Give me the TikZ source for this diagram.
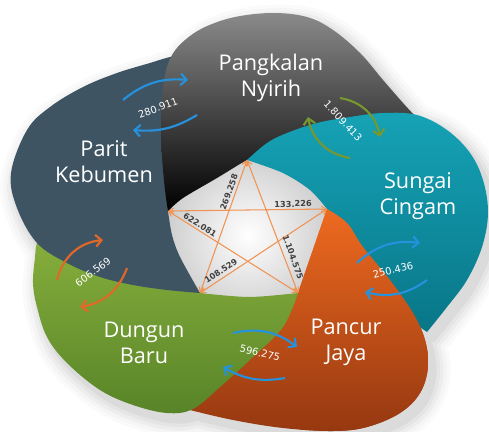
\documentclass[tikz,border=0pt]{standalone}
\usepackage{fontspec}
\setmainfont{Open Sans}
\newfontfamily\numfont{DejaVu Sans}
\usetikzlibrary{arrows.meta}

\definecolor{slate}{RGB}{62,84,99}
\definecolor{greytop}{RGB}{138,138,138}
\definecolor{tealtop}{RGB}{22,162,182}
\definecolor{tealbot}{RGB}{8,118,135}
\definecolor{orangetop}{RGB}{238,106,32}
\definecolor{orangebot}{RGB}{150,56,16}
\definecolor{greentop}{RGB}{138,178,62}
\definecolor{greenbot}{RGB}{88,132,40}
\definecolor{arrowblue}{RGB}{38,146,222}
\definecolor{arrowolive}{RGB}{118,152,46}
\definecolor{arroworange}{RGB}{226,104,40}
\definecolor{starorange}{RGB}{240,146,82}

% petal outlines, in pixels
\newcommand{\petalGrey}{(168,211) -- plot[smooth, tension=0.6] coordinates {(168,211) (165,190) (162,157) (161,125) (162,100) (165,75) (172,55) (185,40) (205,27) (235,17) (273,13) (307,17) (333,30) (360,53) (383,80) (403,103) (415,116)} -- (425,140) -- (330,150) -- plot[smooth] coordinates {(275,147) (247,160) (217,178) (183,198) (168,211)} -- cycle}
\newcommand{\petalSlate}{(200,293) -- plot[smooth, tension=0.6] coordinates {(200,293) (167,290) (133,285) (100,277) (67,263) (37,243) (17,208) (11,173) (27,130) (50,107) (83,87) (117,73) (150,63) (170,57) (195,52)} -- (190,150) -- plot[smooth] coordinates {(168,211) (172,235) (180,257) (200,293)} -- cycle}
\newcommand{\petalGreen}{(298,293) -- plot[smooth, tension=0.6] coordinates {(298,293) (283,327) (253,357) (220,387) (193,409) (167,413) (133,405) (100,390) (67,363) (47,337) (37,307) (33,283) (35,257) (37,243) (45,225)} -- (150,262) -- plot[smooth] coordinates {(200,293) (249,297) (298,293)} -- cycle}
\newcommand{\petalOrange}{(327,209) -- plot[smooth, tension=0.6] coordinates {(327,209) (347,223) (363,247) (390,280) (413,313) (425,340) (428,367) (420,393) (400,413) (367,427) (333,431) (283,428) (233,420) (190,410)} -- (200,390) -- (270,315) -- (298,293) -- cycle}
\newcommand{\petalTeal}{(247,160) -- plot[smooth, tension=0.6] coordinates {(247,160) (267,143) (287,133) (317,123) (350,117) (383,113) (417,115) (447,130) (470,153) (483,180) (488,213) (482,247) (467,280) (447,307) (427,332)} -- (380,300) -- plot[smooth] coordinates {(327,209) (310,190) (283,173) (247,160)} -- cycle}

\begin{document}
\begin{tikzpicture}[x=0.03cm, y=-0.03cm,
    petalname/.style={text=white, align=center, font=\fontsize{18.5}{22}\selectfont}, % names on the petals
    num/.style={text=white, inner sep=1pt, font=\numfont\fontsize{8.5}{10}\selectfont},
    starnum/.style={text=black!75, inner sep=1pt, font=\numfont\bfseries\fontsize{7}{8}\selectfont},
    starline/.style={draw=starorange, line width=0.9pt, {Straight Barb[length=4pt,width=5pt]}-{Straight Barb[length=4pt,width=5pt]}},
    swirl/.style={line width=1.8pt, -{Straight Barb[length=5pt,width=10pt]}}
]
\fill[white] (0,0) rectangle (489,432);
\useasboundingbox (0,0) rectangle (489,432);

% soft shadow
\foreach \lw/\sh in {28/2,22/4,16/7,10/10,4/14}{
    \foreach \p in {\petalGrey,\petalSlate,\petalGreen,\petalOrange,\petalTeal}
        \filldraw[black!\sh, line width=\lw pt, line join=round, shift={(6,8)}] \p;
}

% centre
\begin{scope}
    \clip (248,235) circle (88);
    \shade[inner color=white, outer color=black!42] (248,235) circle (180);
\end{scope}

% petals
\shade[top color=orangetop, bottom color=orangebot] \petalOrange;
\shade[top color=greentop, bottom color=greenbot] \petalGreen;
\fill[slate] \petalSlate;
\shade[top color=greytop, bottom color=black] \petalGrey;
\shade[top color=tealtop, bottom color=tealbot] \petalTeal;
\begin{scope}
    \clip (300,200) rectangle (489,432);
    \shade[top color=orangetop, bottom color=orangebot] \petalOrange;
\end{scope}

% star
\coordinate (vT) at (247,160);
\coordinate (vL) at (168,211);
\coordinate (vR) at (327,209);
\coordinate (vBL) at (200,293);
\coordinate (vBR) at (298,293);
\draw[starline] (vT) -- (vBL);
\draw[starline] (vL) -- (vR);
\draw[starline] (vL) -- (vBR);
\draw[starline] (vT) -- (vBR);
\draw[starline] (vR) -- (vBL);
\node[starnum, rotate=70] (s269) at (229,192) {269.258};
\node[starnum, rotate=1] (s133) at (293,204) {133.226};
\node[starnum, rotate=-32] (s622) at (200,225) {622.081};
\node[starnum, rotate=-70] (s1104) at (293,257) {1.104.575};
\node[starnum, rotate=34] (s108) at (221,271) {108.529};

% names
\node[petalname] (pangkalan) at (271,78) {Pangkalan\\Nyirih};
\node[petalname] (parit) at (104,162) {Parit\\Kebumen};
\node[petalname] (sungai) at (418,196) {Sungai\\Cingam};
\node[petalname] (pancur) at (346,342) {Pancur\\Jaya};
\node[petalname] (dungun) at (144,343) {Dungun\\Baru};

% Parit Kebumen - Pangkalan Nyirih
\coordinate (pk1) at (123,100); \coordinate (pk2) at (188,80);
\coordinate (pk3) at (197,115); \coordinate (pk4) at (133,130);
\draw[swirl, arrowblue] (pk1) to[bend left=22] (pk2);
\draw[swirl, arrowblue] (pk3) to[bend left=18] (pk4);
\node[num, rotate=20] (n280) at (158,108) {280.911};

% Pangkalan Nyirih - Sungai Cingam
\coordinate (ps1) at (340,98); \coordinate (ps2) at (380,137);
\coordinate (ps3) at (350,158); \coordinate (ps4) at (308,117);
\draw[swirl, arrowolive] (ps1) to[bend left=35] (ps2);
\draw[swirl, arrowolive] (ps3) to[bend left=35] (ps4);
\node[num, rotate=-47] (n1809) at (343,121) {1.809.413};

% Sungai Cingam - Pancur Jaya
\coordinate (sp1) at (357,263); \coordinate (sp2) at (420,243);
\coordinate (sp3) at (427,280); \coordinate (sp4) at (365,292);
\draw[swirl, arrowblue] (sp1) to[bend left=25] (sp2);
\draw[swirl, arrowblue] (sp3) to[bend left=25] (sp4);
\node[num, rotate=13] (n250) at (393,270) {250.436};

% Pancur Jaya - Dungun Baru
\coordinate (pd1) at (233,333); \coordinate (pd2) at (297,347);
\coordinate (pd3) at (285,378); \coordinate (pd4) at (223,367);
\draw[swirl, arrowblue] (pd1) to[bend left=25] (pd2);
\draw[swirl, arrowblue] (pd3) to[bend left=20] (pd4);
\node[num, rotate=-14] (n596) at (260,353) {596.275};

% Dungun Baru - Parit Kebumen
\coordinate (dp1) at (57,280); \coordinate (dp2) at (103,240);
\coordinate (dp3) at (127,268); \coordinate (dp4) at (80,307);
\draw[swirl, arroworange] (dp1) to[bend left=35] (dp2);
\draw[swirl, arroworange] (dp3) to[bend left=30] (dp4);
\node[num, rotate=37] (n606) at (93,272) {606.569};

\end{tikzpicture}
\end{document}
